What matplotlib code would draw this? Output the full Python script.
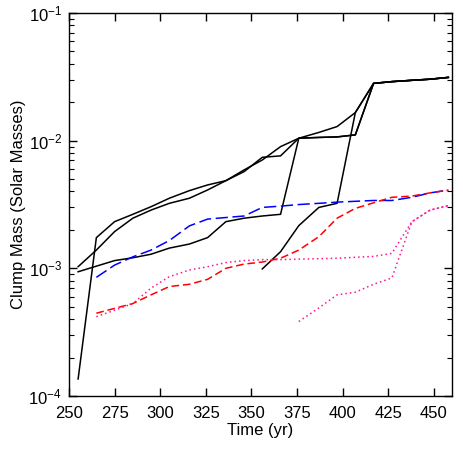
import matplotlib
matplotlib.use("Agg")
import matplotlib.pyplot as plt
from matplotlib.ticker import LogLocator, NullFormatter, FixedLocator

plt.rcParams['font.family'] = ['Liberation Sans', 'DejaVu Sans']

t = [255, 265, 275, 285, 295, 305, 316, 326, 336, 346, 356, 366, 376, 387, 397, 407, 417, 427, 438, 448, 458]

black_a = [0.00103, 0.00139, 0.00194, 0.00247, 0.00286, 0.00323, 0.00354, 0.00411, 0.00486, 0.00590, 0.00706,
           0.00898, 0.01045, 0.0106, 0.0107, 0.0111, 0.0281, 0.0290, 0.0297, 0.0303, 0.0313]
black_b = [0.000136, 0.00174, 0.00232, 0.00265, 0.00304, 0.00354, 0.00406, 0.0045, 0.00486, 0.00572, 0.00741,
           0.0076, 0.01045, 0.0116, 0.0129, 0.0166, 0.0281, 0.0290, 0.0297, 0.0303, 0.0313]
black_c = [0.00094, 0.00104, 0.00115, 0.00121, 0.00129, 0.00144, 0.00155, 0.00174, 0.00232, 0.00247, 0.00257,
           0.00265, 0.01045, 0.0106, 0.0107, 0.0111, 0.0281, 0.0290, 0.0297, 0.0303, 0.0313]
t_d = [356, 366, 376, 387, 397, 407, 417, 427, 438, 448, 458]
black_d = [0.00099, 0.00135, 0.00216, 0.00300, 0.00323, 0.0166, 0.0281, 0.0290, 0.0297, 0.0303, 0.0313]

t_blue = t[1:]
blue = [0.00085, 0.00106, 0.00123, 0.00139, 0.00165, 0.00215, 0.00243, 0.0025, 0.00257, 0.0030, 0.00307,
        0.00316, 0.00323, 0.0033, 0.00335, 0.0034, 0.0034, 0.0036, 0.0039, 0.0041]
red = [0.000445, 0.000486, 0.00053, 0.00062, 0.00072, 0.00075, 0.00082, 0.0010, 0.00108, 0.00112, 0.0012,
       0.00139, 0.00177, 0.00247, 0.00295, 0.00326, 0.0036, 0.00368, 0.0039, 0.0041]
pink1 = [0.000418, 0.00047, 0.00053, 0.00070, 0.00086, 0.00097, 0.00103, 0.00111, 0.00115, 0.00117, 0.00117,
         0.00118, 0.00119, 0.0012, 0.00122, 0.00124, 0.00131, 0.00232, 0.00286, 0.0031]
t_p2 = [376, 387, 397, 407, 417, 427, 438, 448, 458]
pink2 = [0.000383, 0.00049, 0.00062, 0.00065, 0.00075, 0.00084, 0.00232, 0.00286, 0.0031]

fig = plt.figure(figsize=(4.63, 4.51), dpi=100)
ax = fig.add_axes([69/463, 55/451, 383/463, 383/451])

for y in (black_a, black_b, black_c):
    ax.plot(t, y, color='black', lw=1.1)
ax.plot(t_d, black_d, color='black', lw=1.1)
ax.plot(t_blue, blue, color='blue', lw=1.1, dashes=(8, 3))
ax.plot(t_blue, red, color='red', lw=1.1, dashes=(5, 2.5))
ax.plot(t_blue, pink1, color='#ff1493', lw=1.1, dashes=(1, 2))
ax.plot(t_p2, pink2, color='#ff1493', lw=1.1, dashes=(1, 2))

ax.set_yscale('log')
ax.set_xlim(250, 460)
ax.set_ylim(1e-4, 1e-1)
ax.xaxis.set_major_locator(FixedLocator([250, 275, 300, 325, 350, 375, 400, 425, 450]))
ax.yaxis.set_major_locator(LogLocator(base=10, numticks=10))
ax.yaxis.set_minor_locator(LogLocator(base=10, subs=range(2, 10), numticks=10))
ax.yaxis.set_minor_formatter(NullFormatter())
ax.tick_params(which='both', direction='in', top=True, right=True, labelsize=12)
ax.tick_params(which='major', length=6, width=1.0)
ax.tick_params(which='minor', length=3.5, width=0.8)
ax.tick_params(axis='x', pad=7)
ax.tick_params(axis='y', pad=5)
ax.set_xlabel('Time (yr)', fontsize=12, labelpad=2)
ax.set_ylabel('Clump Mass (Solar Masses)', fontsize=12, labelpad=2)
for s in ax.spines.values():
    s.set_linewidth(1.0)

fig.savefig('out.png', dpi=100)
